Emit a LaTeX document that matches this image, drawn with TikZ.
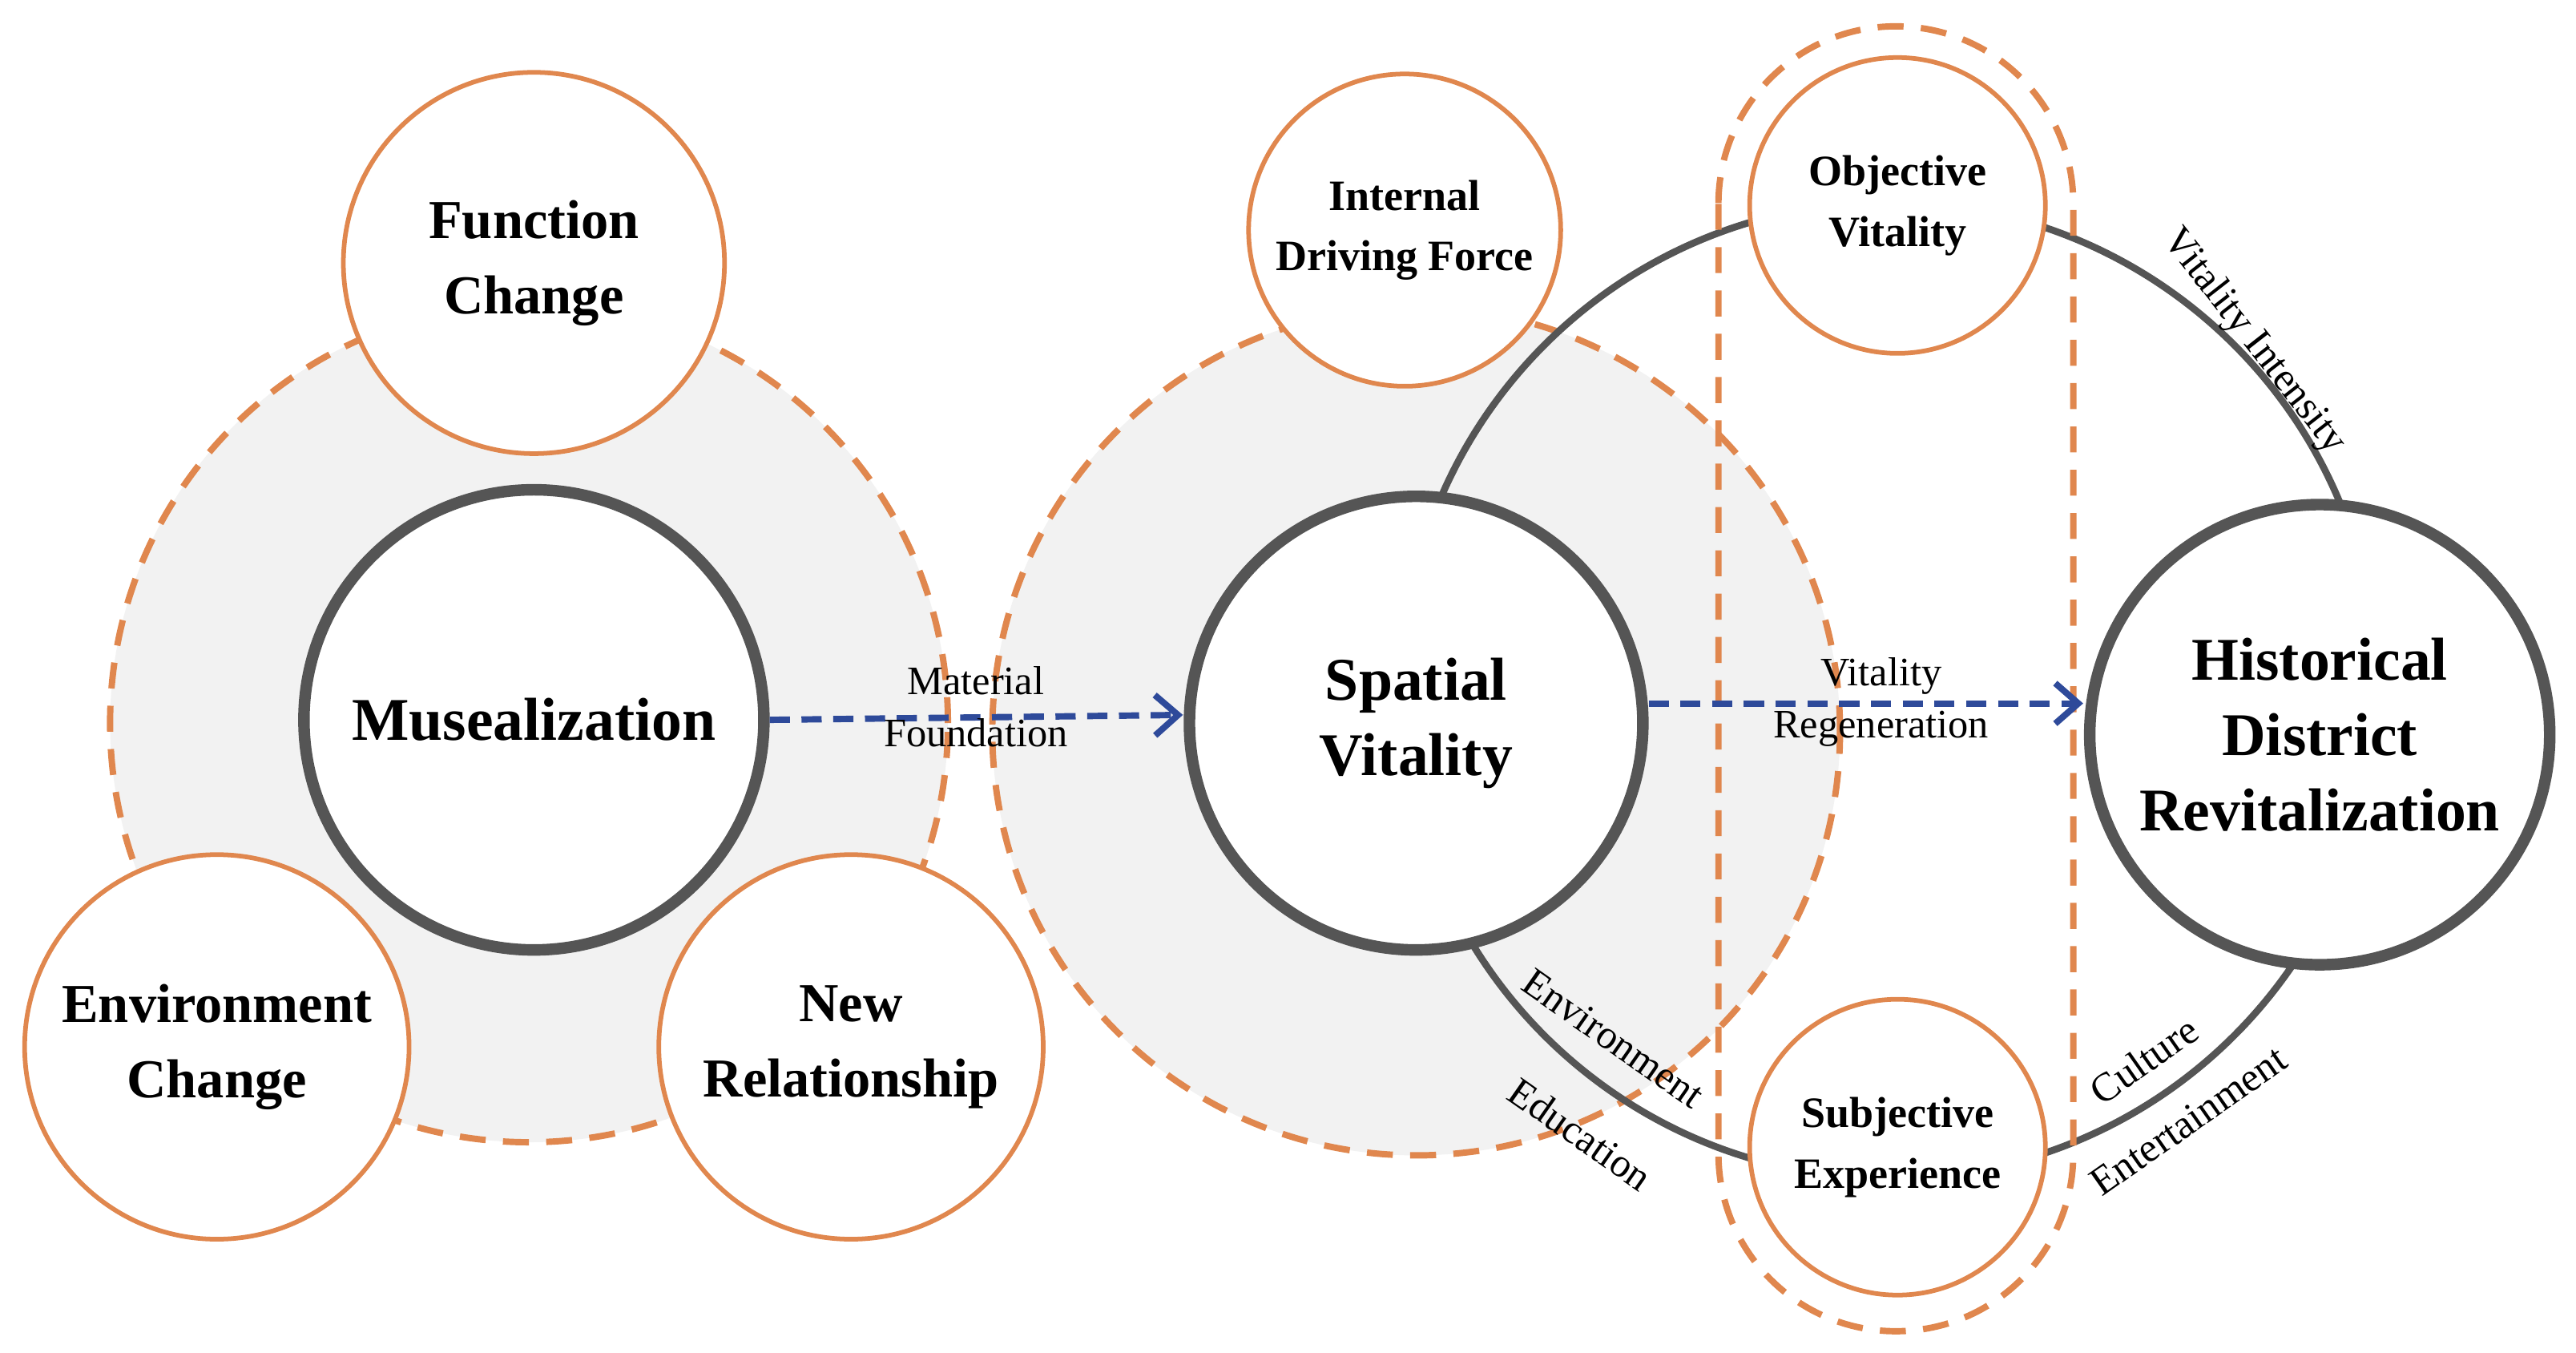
\documentclass[tikz,border=0pt]{standalone}
\usepackage{fontspec}
\setmainfont{Liberation Serif}
\usetikzlibrary{arrows.meta}
\definecolor{orng}{HTML}{E0874E}
\definecolor{drkgray}{HTML}{555555}
\definecolor{lgray}{HTML}{F2F2F2}
\definecolor{arrblue}{HTML}{2E4A9A}
\begin{document}
\begin{tikzpicture}[x=0.02cm,y=-0.02cm]
\tikzstyle{halo}=[circle,draw=orng,dashed,line width=2.2pt,dash pattern=on 9pt off 6pt,fill=lgray]
\tikzstyle{core}=[circle,draw=drkgray,line width=4pt,fill=white,align=center,inner sep=0pt,font=\bfseries\fontsize{21}{26}\selectfont]
\tikzstyle{factor}=[circle,draw=orng,line width=1.6pt,fill=white,align=center,inner sep=0pt,font=\bfseries\fontsize{19}{26}\selectfont]
\tikzstyle{small}=[circle,draw=orng,line width=1.6pt,fill=white,align=center,inner sep=0pt,font=\bfseries\fontsize{15}{21}\selectfont]
\tikzstyle{flow}=[draw=arrblue,line width=2.2pt,dash pattern=on 7pt off 4pt,-{Straight Barb[length=8pt,width=14pt]}]
\tikzstyle{lbl}=[font=\fontsize{14}{18}\selectfont,align=center,inner sep=1pt]

\useasboundingbox (0,0) rectangle (1568,823);

%% gray halos
\node[halo,minimum size=510*0.02cm] (haloA) at (322,440) {};
\node[halo,minimum size=516*0.02cm] (haloB) at (862,445) {};

%% vitality ring
\draw[drkgray,line width=2.4pt] (1150,420) circle (297);

%% main circles
\node[core,minimum size=280*0.02cm] (muse) at (325,438) {Musealization};
\node[core,minimum size=276*0.02cm] (spatial) at (862,440) {Spatial\\Vitality};
\node[core,minimum size=280*0.02cm] (district) at (1412,447) {Historical\\District\\Revitalization};

%% factors
\node[factor,minimum size=232*0.02cm] (function) at (325,160) {Function\\Change};
\node[factor,minimum size=234*0.02cm] (environment) at (132,637) {Environment\\Change};
\node[factor,minimum size=234*0.02cm] (relation) at (518,637) {New\\Relationship};
\node[small,minimum size=190*0.02cm] (driving) at (855,140) {Internal\\Driving Force};
\node[small,minimum size=180*0.02cm] (objective) at (1155,125) {Objective\\Vitality};
\node[small,minimum size=180*0.02cm] (subjective) at (1155,698) {Subjective\\Experience};

%% dashed frame
\draw[orng,line width=2.2pt,dash pattern=on 9pt off 6pt,rounded corners=108*0.02cm] (1046,16) rectangle (1262,810);

%% flows
\coordinate (tipA) at (720,435);
\coordinate (tipB) at (1268,428);
\draw[flow] (muse.east) -- (tipA);
\draw[flow] (spatial.east |- tipB) -- (tipB);
\node[lbl] (matlab) at (594,430) {Material\\Foundation};
\node[lbl] (vitlab) at (1145,427) {Vitality\\Regeneration};

%% ring labels
\node[lbl,rotate=-52] (intensity) at (1372,208) {Vitality Intensity};
\node[lbl,rotate=-35] (envlab) at (982,632) {Environment};
\node[lbl,rotate=-35] (edulab) at (962,690) {Education};
\node[lbl,rotate=35] (cultlab) at (1305,645) {Culture};
\node[lbl,rotate=35] (entlab) at (1332,682) {Entertainment};
\end{tikzpicture}
\end{document}
